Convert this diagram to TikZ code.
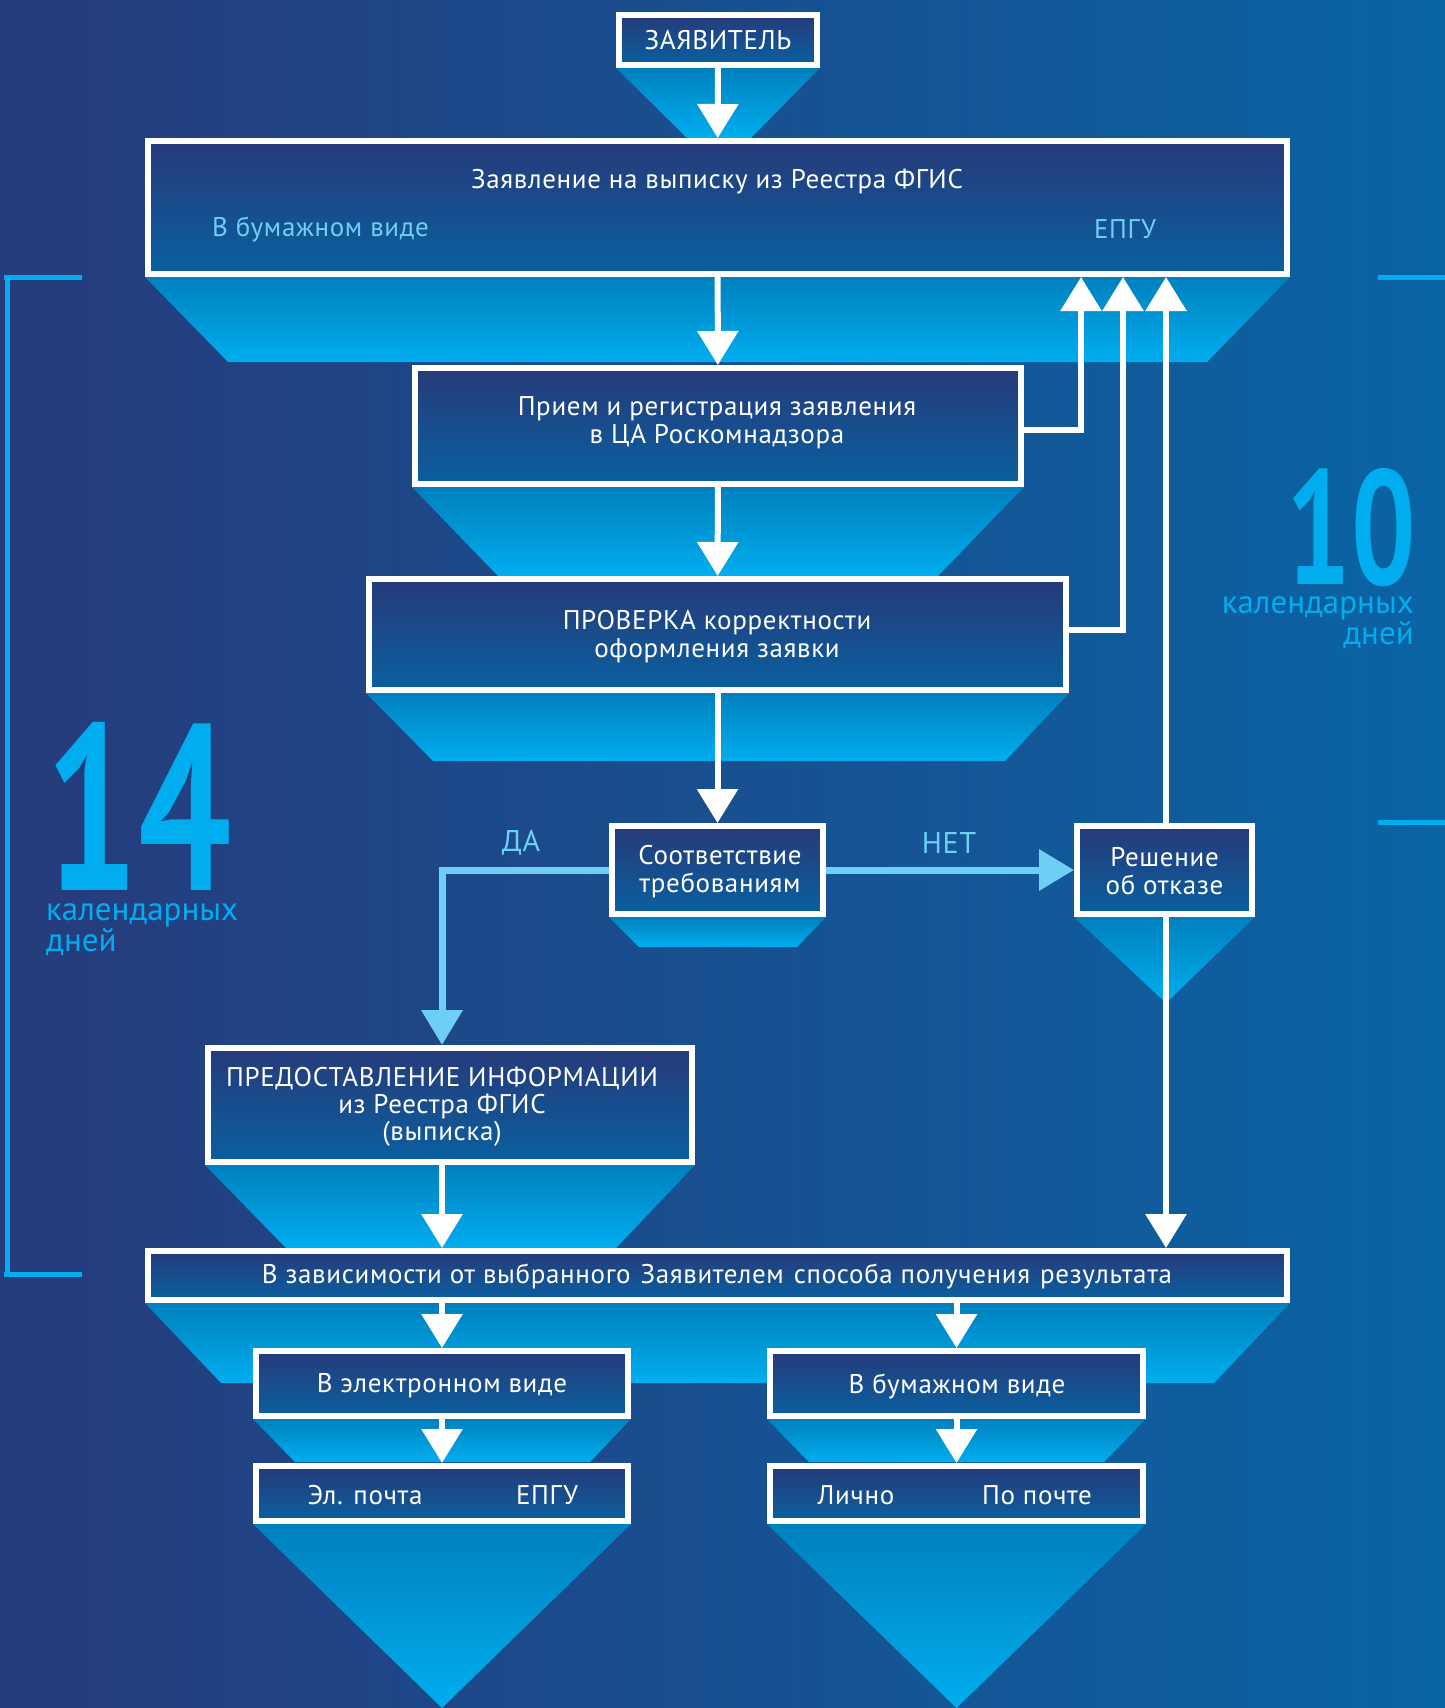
\documentclass[tikz,border=0pt]{standalone}
\usepackage{fontspec}
\setmainfont{PT Sans}[LetterSpace=2.5]
\newfontfamily\dayfont{PT Sans}
\usetikzlibrary{arrows.meta,calc}
\definecolor{bgL}{HTML}{263B7C}
\definecolor{bgR}{HTML}{0A64A4}
\definecolor{boxT}{HTML}{263A7A}
\definecolor{boxB}{HTML}{0A60A0}
\definecolor{funT}{HTML}{0080BE}
\definecolor{funB}{HTML}{00AEEF}
\definecolor{lblue}{HTML}{6DCFF6}
\definecolor{cyanb}{HTML}{00AEEF}
\pgfdeclarelayer{bg}
\pgfdeclarelayer{fun}
\pgfsetlayers{bg,fun,main}
\begin{document}
\begin{tikzpicture}[x=1pt,y=-1pt,
  box/.style={draw=white,line width=6pt,top color=boxT,bottom color=boxB,inner sep=0pt,
    text=white,font=\fontsize{27}{27}\selectfont,align=center},
  txt/.style={inner sep=0pt,text=white,font=\fontsize{27}{27}\selectfont,align=center},
  ltxt/.style={inner sep=0pt,text=lblue,font=\fontsize{27}{27}\selectfont},
  funnel/.style={top color=funT,bottom color=funB},
  warrow/.style={draw=white,line width=6pt,-{Triangle[length=34pt,width=40pt]}},
  larrow/.style={draw=lblue,line width=7pt,-{Triangle[length=35pt,width=40pt]}},
  bracket/.style={draw=cyanb,line width=5pt},
  daytxt/.style={inner sep=0pt,text=cyanb,font=\dayfont\fontsize{33}{31}\selectfont},
]
\useasboundingbox (0,0) rectangle (1445,1708);
\begin{pgfonlayer}{bg}
\shade[left color=bgL,right color=bgR] (0,0) rectangle (1445,1708);
\end{pgfonlayer}

% boxes
\node[box,minimum width=198,minimum height=50] (zay) at (718,40) {ЗАЯВИТЕЛЬ};
\node[box,minimum width=1139,minimum height=133] (b1) at (717.5,207.5) {};
\node[box,minimum width=606,minimum height=116] (b2) at (718,426) {};
\node[box,minimum width=697,minimum height=111] (b3) at (717.5,634.5) {};
\node[box,minimum width=211,minimum height=88] (b4) at (717.5,870) {};
\node[box,minimum width=175,minimum height=88] (b5) at (1164.5,870) {};
\node[box,minimum width=484,minimum height=114] (b7) at (450,1105) {};
\node[box,minimum width=1139,minimum height=49] (b6) at (717.5,1275.5) {};
\node[box,minimum width=372,minimum height=65] (b8) at (442,1383.5) {};
\node[box,minimum width=373,minimum height=65] (b9) at (956.5,1383.5) {};
\node[box,minimum width=372,minimum height=55] (b10) at (442,1493.5) {};
\node[box,minimum width=373,minimum height=55] (b11) at (956.5,1493.5) {};

% texts inside boxes
\node[txt] (t1) at (717,182) {Заявление на выписку из Реестра ФГИС};
\node[ltxt,anchor=west] (t1a) at (212,229) {В бумажном виде};
\node[ltxt] (t1b) at (1125,229) {ЕПГУ};
\node[txt] (t2) at (717,423) {Прием и регистрация заявления\\[1pt]в ЦА Роскомнадзора};
\node[txt] (t3) at (717,637) {ПРОВЕРКА корректности\\[1pt]оформления заявки};
\node[txt] (t4) at (720,872) {Соответствие\\[1pt]требованиям};
\node[txt] (t5) at (1164.5,871) {Решение\\[1pt]об отказе};
\node[txt] (t7) at (442,1107) {ПРЕДОСТАВЛЕНИЕ ИНФОРМАЦИИ\\[0pt]из Реестра ФГИС\\[0pt](выписка)};
\node[txt] (t6) at (717,1276) {В зависимости от выбранного\hspace{10pt}Заявителем\hspace{10pt}способа получения\hspace{10pt}результата};
\node[txt] (t8) at (442,1386) {В электронном виде};
\node[txt] (t9) at (957,1386) {В бумажном виде};
\node[txt] (t10a) at (365,1495) {Эл. почта};
\node[txt] (t10b) at (547,1495) {ЕПГУ};
\node[txt] (t11a) at (856,1495) {Лично};
\node[txt] (t11b) at (1037,1495) {По почте};

% funnels
\begin{pgfonlayer}{fun}
\shade[funnel] (zay.south west) -- (zay.south east) -- (751,138) -- (687,138) -- cycle;
\shade[funnel] (b1.south west) -- (b1.south east) -- (1207,362) -- (228,362) -- cycle;
\shade[funnel] (b2.south west) -- (b2.south east) -- (938,576) -- (498,576) -- cycle;
\shade[funnel] (b3.south west) -- (b3.south east) -- (1005,761) -- (433,761) -- cycle;
\shade[funnel] (b4.south west) -- (b4.south east) -- (797,947) -- (639,947) -- cycle;
\shade[funnel] (b5.south west) -- (b5.south east) -- (1166,1003) -- cycle;
\shade[funnel] (b7.south west) -- (b7.south east) -- (616,1248) -- (286,1248) -- cycle;
\shade[funnel] (b6.south west) -- (b6.south east) -- (1214,1383) -- (221,1383) -- cycle;
\shade[funnel] (b8.south west) -- (b8.south east) -- (590,1462) -- (295,1462) -- cycle;
\shade[funnel] (b9.south west) -- (b9.south east) -- (1104,1462) -- (809,1462) -- cycle;
\shade[funnel] (b10.south west) -- (b10.south east) -- (442,1708) -- cycle;
\shade[funnel] (b11.south west) -- (b11.south east) -- (956.5,1708) -- cycle;
\end{pgfonlayer}

% connectors
\coordinate (c1) at (1081,0);
\coordinate (c2) at (1123,0);
\coordinate (c3) at (1166,0);
\coordinate (cda) at (442,0);
\draw[warrow] (zay) -- (b1);
\draw[warrow] (b1) -- (b2);
\draw[warrow] (b2) -- (b3);
\draw[warrow] (b3) -- (b4);
\draw[warrow] ([yshift=-4pt]b2.east) -| (c1 |- b1.south);
\draw[warrow] ([yshift=5pt]b3.east) -| (c2 |- b1.south);
\draw[warrow] (c3 |- b5.north) -- (c3 |- b1.south);
\draw[warrow] (c3 |- b5.south) -- (c3 |- b6.north);
\draw[larrow] (b4.west) -| (cda |- b7.north);
\draw[larrow] (b4.east) -- (b5.west);
\draw[warrow] (cda |- b7.south) -- (cda |- b6.north);
\draw[warrow] (b8 |- b6.south) -- (b8);
\draw[warrow] (b9 |- b6.south) -- (b9);
\draw[warrow] (b8) -- (b10);
\draw[warrow] (b9) -- (b11);
\node[ltxt,font=\fontsize{30}{30}\selectfont] (da) at (521,843) {ДА};
\node[ltxt,font=\fontsize{30}{30}\selectfont] (net) at (949,843) {НЕТ};

% brackets
\draw[bracket] (4,277) -- (82,277);
\draw[bracket] (7,277) -- (7,1274);
\draw[bracket] (4,1274) -- (82,1274);
\draw[bracket] (1378,277) -- (1445,277);
\draw[bracket] (1378,822) -- (1445,822);

% big numbers
\node[inner sep=0pt,anchor=north west,text=cyanb] (n14) at (45,722) {\resizebox{186pt}{168pt}{\dayfont\bfseries 14}};
\node[daytxt,anchor=north west,align=left] (d14) at (46,903) {календарных\\дней};
\node[inner sep=0pt,anchor=north east,text=cyanb] (n10) at (1416,468) {\resizebox{129pt}{116pt}{\dayfont\bfseries 10}};
\node[daytxt,anchor=north east,align=right] (d10) at (1414,596) {календарных\\дней};
\end{tikzpicture}
\end{document}
